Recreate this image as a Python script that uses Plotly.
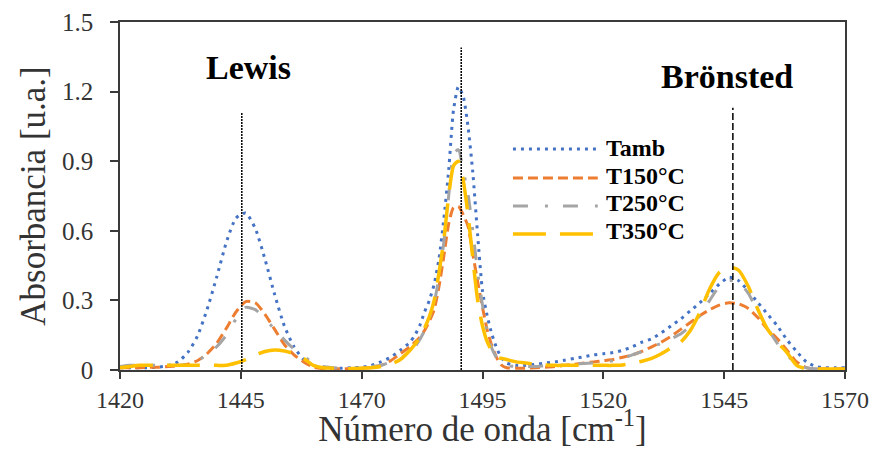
import plotly.graph_objects as go

# Wavenumber grid (cm^-1): 2 cm^-1 steps, 1 cm^-1 steps across the 1490 band
wavenumber = (
    [1420, 1422, 1424, 1426, 1428, 1430, 1432, 1434, 1436, 1438, 1440,
     1442, 1444, 1446, 1448, 1450, 1452, 1454, 1456, 1458, 1460,
     1462, 1464, 1466, 1468, 1470, 1472, 1474, 1476, 1478, 1480]
    + [1481, 1482, 1483, 1484, 1485, 1486, 1487, 1488, 1489, 1490,
       1491, 1492, 1493, 1494, 1495, 1496, 1497, 1498, 1499]
    + [1500, 1502, 1504, 1506, 1508, 1510, 1512, 1514, 1516, 1518, 1520, 1522,
       1524, 1526, 1528, 1530, 1532, 1534, 1536, 1538, 1540, 1542, 1544, 1546,
       1548, 1550, 1552, 1554, 1556, 1558, 1560, 1562, 1564, 1566, 1568, 1570]
)

# Pyridine absorbance spectra after desorption at each temperature
abs_tamb = (
    [0.010, 0.010, 0.010, 0.010, 0.012, 0.020, 0.035, 0.075, 0.145, 0.260, 0.400,
     0.550, 0.655, 0.677, 0.610, 0.477, 0.325, 0.190, 0.100, 0.045, 0.020,
     0.010, 0.008, 0.008, 0.010, 0.012, 0.020, 0.035, 0.055, 0.085, 0.120]
    + [0.150, 0.190, 0.250, 0.300, 0.370, 0.480, 0.650, 0.860, 1.120, 1.220,
       1.180, 1.050, 0.850, 0.580, 0.340, 0.230, 0.150, 0.090, 0.050]
    + [0.030, 0.020, 0.020, 0.025, 0.030, 0.035, 0.042, 0.050, 0.057, 0.065, 0.070, 0.075,
       0.085, 0.100, 0.120, 0.135, 0.160, 0.190, 0.220, 0.255, 0.290, 0.330, 0.370, 0.400,
       0.385, 0.340, 0.290, 0.240, 0.190, 0.130, 0.080, 0.035, 0.015, 0.010, 0.010, 0.010]
)
abs_t150 = (
    [0.010, 0.010, 0.010, 0.012, 0.012, 0.015, 0.018, 0.025, 0.040, 0.070, 0.115,
     0.180, 0.250, 0.295, 0.290, 0.240, 0.175, 0.110, 0.065, 0.035, 0.012,
     0.006, 0.005, 0.005, 0.006, 0.008, 0.012, 0.020, 0.040, 0.070, 0.100]
    + [0.120, 0.140, 0.170, 0.210, 0.260, 0.360, 0.490, 0.630, 0.700, 0.705,
       0.670, 0.620, 0.500, 0.380, 0.270, 0.170, 0.100, 0.050, 0.020]
    + [0.010, 0.008, 0.008, 0.010, 0.012, 0.015, 0.020, 0.025, 0.030, 0.035, 0.040, 0.045,
       0.055, 0.065, 0.080, 0.100, 0.120, 0.145, 0.175, 0.205, 0.235, 0.260, 0.280, 0.290,
       0.285, 0.265, 0.225, 0.175, 0.135, 0.085, 0.035, 0.010, 0.005, 0.005, 0.005, 0.005]
)
abs_t250 = (
    [0.015, 0.020, 0.020, 0.020, 0.020, 0.020, 0.020, 0.025, 0.040, 0.065, 0.100,
     0.150, 0.220, 0.270, 0.260, 0.220, 0.175, 0.130, 0.090, 0.060, 0.030,
     0.015, 0.010, 0.008, 0.008, 0.010, 0.015, 0.020, 0.035, 0.050, 0.080]
    + [0.100, 0.130, 0.170, 0.220, 0.290, 0.400, 0.550, 0.750, 0.930, 0.950,
       0.860, 0.760, 0.600, 0.420, 0.280, 0.160, 0.090, 0.050, 0.030]
    + [0.020, 0.015, 0.015, 0.015, 0.018, 0.020, 0.022, 0.025, 0.028, 0.030, 0.035, 0.040,
       0.050, 0.065, 0.080, 0.100, 0.115, 0.135, 0.155, 0.190, 0.235, 0.300, 0.360, 0.385,
       0.380, 0.330, 0.250, 0.180, 0.115, 0.065, 0.025, 0.010, 0.005, 0.005, 0.005, 0.005]
)
abs_t350 = (
    [0.010, 0.015, 0.020, 0.020, 0.020, 0.020, 0.020, 0.020, 0.020, 0.020, 0.020,
     0.020, 0.030, 0.045, 0.065, 0.080, 0.086, 0.082, 0.070, 0.050, 0.020,
     0.010, 0.008, 0.006, 0.006, 0.008, 0.010, 0.015, 0.025, 0.045, 0.085]
    + [0.110, 0.140, 0.180, 0.230, 0.300, 0.420, 0.560, 0.750, 0.880, 0.900,
       0.820, 0.670, 0.480, 0.300, 0.190, 0.120, 0.080, 0.055, 0.050]
    + [0.045, 0.035, 0.030, 0.025, 0.022, 0.020, 0.020, 0.020, 0.020, 0.020, 0.020, 0.020,
       0.022, 0.030, 0.038, 0.050, 0.070, 0.095, 0.120, 0.170, 0.250, 0.350, 0.420, 0.445,
       0.430, 0.360, 0.260, 0.175, 0.120, 0.075, 0.020, 0.005, 0.004, 0.004, 0.004, 0.004]
)

series_names = ["Tamb", "T150°C", "T250°C", "T350°C"]
series_values = [abs_tamb, abs_t150, abs_t250, abs_t350]

# Reference band positions (cm^-1) and the height of their marker lines
band_positions = [1445.2, 1490.6, 1546.8]
band_tops = [1.11, 1.39, 1.13]
band_labels = ["Lewis", "Brönsted"]
band_label_x = [1446.5, 1545.6]
band_label_y = [1.305, 1.265]

x_ticks = [1420, 1445, 1470, 1495, 1520, 1545, 1570]
y_ticks = [0, 0.3, 0.6, 0.9, 1.2, 1.5]
y_tick_labels = ["0", "0.3", "0.6", "0.9", "1.2", "1.5"]

FONT = "Liberation Serif"
AXIS = "#3a3a3a"
TEXT = "#333333"
colors = ["#4472C4", "#ED7D31", "#A5A5A5", "#FFC000"]
dashes = ["3px,5px", "10px,5px", "15px,17px,3px,15px", "33px,14px"]
widths = [3, 3, 3, 3.5]

fig = go.Figure()
for name, vals, c, d, w in zip(series_names, series_values, colors, dashes, widths):
    fig.add_trace(go.Scatter(
        x=wavenumber, y=vals, name=name, mode="lines",
        line=dict(color=c, width=w, dash=d, shape="spline", smoothing=0.6),
        showlegend=False,
    ))

shapes = []
band_dash = ["2px,1px", "2px,1px", "7px,3px"]
for pos, top, bd in zip(band_positions, band_tops, band_dash):
    shapes.append(dict(type="line", xref="x", yref="y", x0=pos, x1=pos, y0=0, y1=top,
                       line=dict(color="black", width=1.5, dash=bd), layer="above"))

# Legend drawn in paper coordinates so the line samples can be long
legend_y_line = [0.635, 0.552, 0.471, 0.391]
legend_y_text = [0.637, 0.558, 0.479, 0.400]
annotations = []
for name, c, d, w, yl, yt in zip(series_names, colors, dashes, widths, legend_y_line, legend_y_text):
    shapes.append(dict(type="line", xref="paper", yref="paper", x0=0.542, x1=0.659,
                       y0=yl, y1=yl, line=dict(color=c, width=w, dash=d)))
    annotations.append(dict(xref="paper", yref="paper", x=0.667, y=yt, text="<b>%s</b>" % name,
                            showarrow=False, xanchor="left", yanchor="middle",
                            height=26, valign="middle",
                            font=dict(family=FONT, size=24, color="black")))

for lab, lx, ly in zip(band_labels, band_label_x, band_label_y):
    annotations.append(dict(xref="x", yref="y", x=lx, y=ly, text="<b>%s</b>" % lab,
                            showarrow=False, xanchor="center", yanchor="middle",
                            font=dict(family=FONT, size=34, color="black")))

fig.update_layout(
    width=878, height=449,
    margin=dict(l=120, r=33, t=22, b=79),
    paper_bgcolor="white", plot_bgcolor="white",
    font=dict(family=FONT, color=TEXT),
    shapes=shapes, annotations=annotations,
    xaxis=dict(
        range=[1420, 1570], tickvals=x_ticks, ticks="outside", ticklen=7, tickwidth=1.5,
        tickcolor=AXIS, showline=True, linecolor=AXIS, linewidth=1.5, mirror=True,
        showgrid=False, zeroline=False, automargin=False,
        tickfont=dict(family=FONT, size=24, color=TEXT),
        title=dict(text="Número de onda [cm<sup>-1</sup>]", standoff=0,
                   font=dict(family=FONT, size=35, color=TEXT)),
    ),
    yaxis=dict(
        range=[0, 1.5], tickvals=y_ticks, ticktext=y_tick_labels, ticks="outside",
        ticklen=8, tickwidth=1.5, tickcolor=AXIS, showline=True, linecolor=AXIS,
        linewidth=1.5, mirror=True, showgrid=False, zeroline=False, automargin=False,
        ticklabelstandoff=12,
        tickfont=dict(family=FONT, size=25, color=TEXT),
        title=dict(text="Absorbancia [u.a.]", standoff=6,
                   font=dict(family=FONT, size=35, color=TEXT)),
    ),
)

fig.write_html("out.html")
